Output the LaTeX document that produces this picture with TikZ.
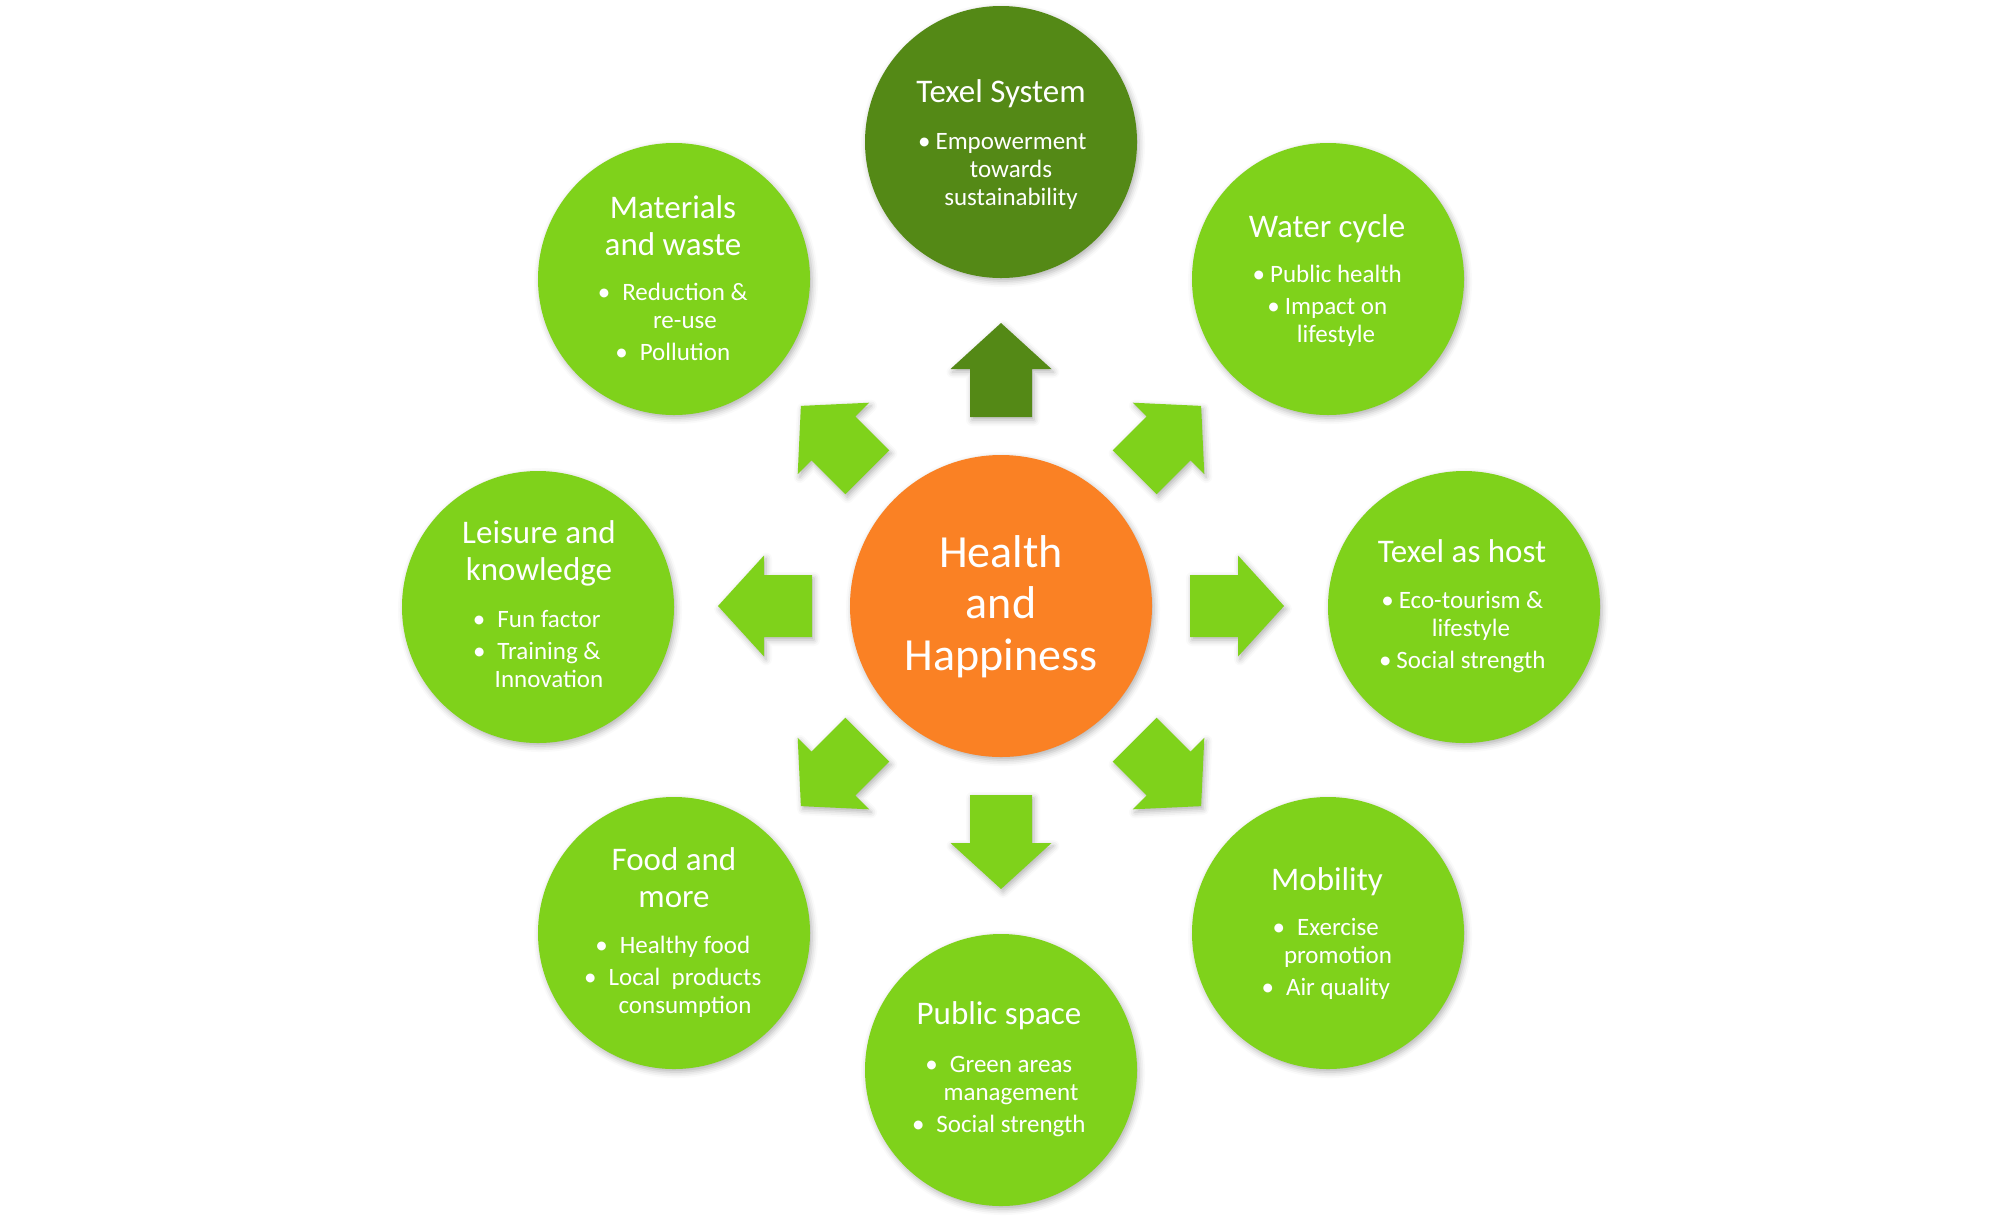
\documentclass[tikz,border=0pt]{standalone}
\usepackage{fontspec}
\setmainfont{Carlito}
\usetikzlibrary{shadows.blur}
\definecolor{lgreen}{RGB}{127,210,27}
\definecolor{dgreen}{RGB}{84,137,22}
\definecolor{hhorange}{RGB}{250,129,36}
\newcommand{\txtlines}[2]{\vtop{\baselineskip=#1\lineskiplimit=-40pt\lineskip=0pt\halign{\hfil##\hfil\cr #2\crcr}}}
\newcommand{\bn}{\llap{\textbullet\kern2.5pt}}
\newcommand{\bw}{\llap{\textbullet\kern6pt}}
\newcommand{\gapb}{\noalign{\vskip2pt}}
\begin{document}
\begin{tikzpicture}[x=0.5pt,y=-0.5pt,
  shd/.style={blur shadow={shadow xshift=1pt, shadow yshift=-1.5pt, shadow blur radius=3pt, shadow opacity=30}},
  sat/.style={circle, inner sep=0pt, minimum size=136pt, fill=lgreen, shd},
  ttl/.style={anchor=base, inner sep=0pt, text=white, font=\fontsize{16.5}{18.5}\selectfont},
  bul/.style={anchor=base, inner sep=0pt, text=white, font=\fontsize{12.5}{14}\selectfont},
  barrow/.style={fill=lgreen, shd}]
\useasboundingbox (0,0) rectangle (2000,1217);

% centre
\node[circle, inner sep=0pt, minimum size=151pt, fill=hhorange, shd] (hh) at (1001,606) {};
\node[anchor=base, inner sep=0pt, text=white, font=\fontsize{23}{26}\selectfont] (hht) at (1001,567)
  {\txtlines{25.75pt}{Health\cr and\cr Happiness}};

% block arrows
\foreach \ang/\col in {0/lgreen,45/lgreen,90/dgreen,135/lgreen,180/lgreen,225/lgreen,270/lgreen,315/lgreen}{
  \fill[barrow, fill=\col, shift={(hh.center)}, rotate=\ang]
    (189,-31) -- (237,-31) -- (237,-50.5) -- (283,0) -- (237,50.5) -- (237,31) -- (189,31) -- cycle;
}

% satellites
\node[sat, fill=dgreen] (s1) at (1001,142) {};
\node[sat] (s2) at (1328,279) {};
\node[sat] (s3) at (1464,607) {};
\node[sat] (s4) at (1328,933) {};
\node[sat] (s5) at (1001,1070) {};
\node[sat] (s6) at (674,933) {};
\node[sat] (s7) at (538,607) {};
\node[sat] (s8) at (674,279) {};

% titles
\node[ttl] (t1) at (1001,102) {\txtlines{18.5pt}{Texel System}};
\node[ttl] (t2) at (1327,237) {\txtlines{18.5pt}{Water cycle}};
\node[ttl] (t3) at (1462,562) {\txtlines{18.5pt}{Texel as host}};
\node[ttl] (t4) at (1327,890) {\txtlines{18.5pt}{Mobility}};
\node[ttl] (t5) at (999,1024) {\txtlines{18.5pt}{Public space}};
\node[ttl] (t6) at (674,870) {\txtlines{18.5pt}{Food and\cr more}};
\node[ttl] (t7) at (539,543) {\txtlines{18.5pt}{Leisure and\cr knowledge}};
\node[ttl] (t8) at (673,218) {\txtlines{18.5pt}{Materials\cr and waste}};

% bullets
\node[bul] (b1) at (1011,149) {\txtlines{14pt}{\bn Empowerment\cr towards\cr sustainability}};
\node[bul] (b2) at (1336,282) {\txtlines{14pt}{\bn Public health\cr\gapb \bn Impact on\cr lifestyle}};
\node[bul] (b3) at (1471,608) {\txtlines{14pt}{\bn Eco-tourism \&\cr lifestyle\cr\gapb \bn Social strength}};
\node[bul] (b4) at (1338,935) {\txtlines{14pt}{\bw Exercise\cr promotion\cr\gapb \bw Air quality}};
\node[bul] (b5) at (1011,1072) {\txtlines{14pt}{\bw Green areas\cr management\cr\gapb \bw Social strength}};
\node[bul] (b6) at (685,953) {\txtlines{14pt}{\bw Healthy food\cr\gapb \bw Local\ \ products\cr consumption}};
\node[bul] (b7) at (549,627) {\txtlines{14pt}{\bw Fun factor\cr\gapb \bw Training \&\cr Innovation}};
\node[bul] (b8) at (685,300) {\txtlines{14pt}{\bw Reduction \&\cr re-use\cr\gapb \bw Pollution}};
\end{tikzpicture}
\end{document}
